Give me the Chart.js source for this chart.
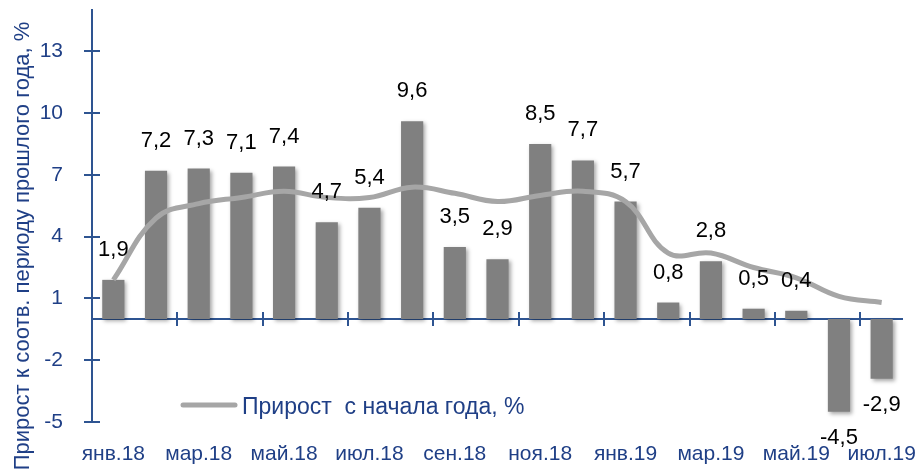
<!DOCTYPE html>
<html>
<head>
<meta charset="utf-8">
<script src="https://cdn.jsdelivr.net/npm/chart.js@4/dist/chart.umd.min.js"></script>
<style>
  html, body { margin: 0; padding: 0; background: #fff; }
  #wrap { width: 923px; height: 473px; position: relative; }
</style>
</head>
<body>
<div id="wrap"><canvas id="myChart" width="923" height="473"></canvas></div>
<script>
const months = ['янв.18', 'фев.18', 'мар.18', 'апр.18', 'май.18', 'июн.18', 'июл.18', 'авг.18', 'сен.18', 'окт.18', 'ноя.18', 'дек.18',
   'янв.19', 'фев.19', 'мар.19', 'апр.19', 'май.19', 'июн.19', 'июл.19'];
const yoyGrowth = [1.9, 7.2, 7.3, 7.1, 7.4, 4.7, 5.4, 9.6, 3.5, 2.9, 8.5, 7.7, 5.7, 0.8, 2.8, 0.5, 0.4, -4.5, -2.9];
const ytdGrowth = [1.9, 4.9, 5.6, 5.9, 6.2, 5.9, 5.9, 6.4, 6.1, 5.7, 6.0, 6.2, 5.7, 3.2, 3.2, 2.5, 2.0, 1.1, 0.8];
const yTicks = [-5, -2, 1, 4, 7, 10, 13];
const yTitle = 'Прирост к соотв. периоду прошлого года, %';
const lineLabel = 'Прирост  с начала года, %';

const axisBlue = '#2E5491';
const textBlue = '#1F3F86';
const FONT = 'Arial, "Liberation Sans", sans-serif';

// axes, crosses, legend, y title, bar value labels
const decor = {
   id: 'decor',
   beforeDatasetDraw(chart, args) {
      if (args.meta.type === 'bar') {
         const c = chart.ctx;
         c.save();
         c.shadowColor = 'rgba(0,0,0,0.35)';
         c.shadowBlur = 4;
         c.shadowOffsetX = 2;
         c.shadowOffsetY = 2;
      }
   },
   afterDatasetDraw(chart, args) {
      if (args.meta.type === 'bar') chart.ctx.restore();
   },
   beforeDatasetsDraw(chart) {
      const c = chart.ctx;
      const x = chart.scales.x, y = chart.scales.y;
      const area = chart.chartArea;
      const y0 = Math.round(y.getPixelForValue(0));
      c.save();
      c.strokeStyle = axisBlue;
      c.lineWidth = 2;
      // zero line
      c.beginPath();
      c.moveTo(area.left, y0);
      c.lineTo(area.right, y0);
      c.stroke();
      // x tick marks every 2 categories
      for (let i = 2; i < months.length; i += 2) {
         const px = Math.round((x.getPixelForValue(i - 1) + x.getPixelForValue(i)) / 2);
         c.beginPath();
         c.moveTo(px, y0 - 7);
         c.lineTo(px, y0 + 7);
         c.stroke();
      }
      // y tick crosses
      yTicks.forEach(v => {
         const py = Math.round(y.getPixelForValue(v));
         c.beginPath();
         c.moveTo(area.left - 8, py);
         c.lineTo(area.left + 8, py);
         c.stroke();
      });
      c.restore();
   },
   afterDatasetsDraw(chart) {
      const c = chart.ctx;
      const meta = chart.getDatasetMeta(1);
      c.save();
      c.font = '22px ' + FONT;
      c.fillStyle = '#000';
      c.textAlign = 'center';
      c.textBaseline = 'alphabetic';
      meta.data.forEach((bar, i) => {
         const v = yoyGrowth[i];
         const txt = v.toFixed(1).replace('.', ',');
         if (v >= 0) {
            c.fillText(txt, bar.x, bar.y - 24);
         } else {
            c.fillText(txt, bar.x, bar.y + 32);
         }
      });
      // legend
      c.strokeStyle = '#A6A6A6';
      c.lineWidth = 5;
      c.lineCap = 'round';
      c.beginPath();
      c.moveTo(183, 405);
      c.lineTo(235, 405);
      c.stroke();
      c.font = '23px ' + FONT;
      c.fillStyle = textBlue;
      c.textAlign = 'left';
      c.fillText(lineLabel, 242, 414);
      // y title
      c.font = '22px ' + FONT;
      c.translate(29, 246);
      c.rotate(-Math.PI / 2);
      c.textAlign = 'center';
      c.fillText(yTitle, 0, 0);
      c.restore();
   }
};

const ctx = document.getElementById('myChart').getContext('2d');
const myChart = new Chart(ctx, {
   data: {
      labels: months,
      datasets: [{
         type: 'line',
         label: lineLabel,
         data: ytdGrowth,
         borderColor: '#A6A6A6',
         borderWidth: 5,
         pointRadius: 0,
         tension: 0.4,
         order: 0
      }, {
         type: 'bar',
         label: 'yoy',
         data: yoyGrowth,
         backgroundColor: '#808080',
         barPercentage: 0.52,
         categoryPercentage: 1,
         order: 1
      }]
   },
   options: {
      responsive: false,
      animation: false,
      layout: { padding: { top: 10, right: 20, bottom: 0, left: 0 } },
      plugins: {
         legend: { display: false },
         tooltip: { enabled: false }
      },
      scales: {
         x: {
            offset: true,
            grid: { display: false },
            border: { display: false },
            ticks: {
               autoSkip: false,
               maxRotation: 0,
               padding: 12,
               color: textBlue,
               font: { family: FONT, size: 21 },
               callback: (v, i) => i % 2 === 0 ? months[i] : ''
            },
            afterFit: s => { s.height = 51; s.paddingLeft = 0; s.paddingRight = 0; }
         },
         y: {
            min: -5,
            max: 15,
            grid: { display: false },
            border: { display: true, color: axisBlue, width: 2 },
            afterBuildTicks: s => { s.ticks = yTicks.map(v => ({ value: v })); },
            ticks: {
               padding: 21,
               color: textBlue,
               font: { family: FONT, size: 21 }
            },
            afterFit: s => { s.width = 92; s.paddingTop = 0; s.paddingBottom = 0; }
         }
      }
   },
   plugins: [decor]
});
</script>
</body>
</html>
